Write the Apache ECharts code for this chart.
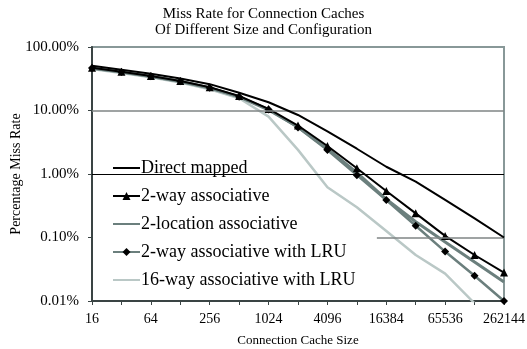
<!DOCTYPE html>
<html>
<head>
<meta charset="utf-8">
<script src="https://cdn.jsdelivr.net/npm/echarts@6/dist/echarts.min.js"></script>
<style>
html,body{margin:0;padding:0;background:#fff;}
#chart{width:527px;height:349px;}
</style>
</head>
<body>
<div id="chart"></div>
<script>
// Cache sizes (x categories, powers of two)
var cacheSizes = [16, 32, 64, 128, 256, 512, 1024, 2048, 4096, 8192, 16384, 32768, 65536, 131072, 262144];
// Tick labels shown on x axis
var xTickLabels = ['16', '64', '256', '1024', '4096', '16384', '65536', '262144'];
// Y tick labels (percent)
var yTickValues = [0.01, 0.1, 1, 10, 100];

// Miss rates in percent
var directMapped   = [50.5, 44, 38, 32, 26, 19, 13.5, 8.5, 4.7, 2.5, 1.3, 0.76, 0.39, 0.20, 0.10];
var twoWay         = [47.2, 40.8, 34.9, 29.1, 23.2, 16.9, 10.6, 5.8, 2.76, 1.23, 0.54, 0.24, 0.106, 0.053, 0.028];
var twoLocation    = [46.2, 40.2, 34.3, 28.6, 22.6, 16.4, 10.2, 5.5, 2.5, 1.05, 0.40, 0.177, 0.085, 0.041, 0.020];
var twoWayLRU      = [46.6, 40.5, 34.6, 28.8, 22.8, 16.5, 10.4, 5.4, 2.39, 0.96, 0.39, 0.153, 0.060, 0.025, 0.0100];
var sixteenWayLRU  = [45.0, 39.0, 33.5, 27.5, 21.5, 15.6, 8.0, 2.4, 0.62, 0.30, 0.127, 0.053, 0.027, 0.0092, 0.004];

var seriesNames = ['Direct mapped', '2-way associative', '2-location associative', '2-way associative with LRU', '16-way associative with LRU'];
var noSymbol = {'Direct mapped': true, '2-location associative': true, '16-way associative with LRU': true};

function pairs(vals) {
  return cacheSizes.map(function (s, i) { return [Math.log2(s), vals[i]]; });
}

var FONT = 'Liberation Serif';
var chart = echarts.init(document.getElementById('chart'), null, {renderer: 'canvas'});

var option = {
  animation: false,
  backgroundColor: '#ffffff',
  title: {
    text: 'Miss Rate for Connection Caches\nOf Different Size and Configuration',
    left: 'center',
    top: 1,
    textStyle: {fontFamily: FONT, fontSize: 15, fontWeight: 'normal', color: '#000', lineHeight: 16}
  },
  grid: {
    left: 92, right: 23, top: 47, bottom: 48,
    outerBoundsMode: 'none', containLabel: false,
    show: true, borderColor: '#889898', borderWidth: 2, backgroundColor: 'transparent'
  },
  legend: {
    orient: 'vertical',
    left: 107, top: 154,
    itemWidth: 27, itemHeight: 10, itemGap: 10,
    data: seriesNames.map(function (n) {
      return noSymbol[n] ? {name: n, itemStyle: {opacity: 0, borderWidth: 0}} : {name: n};
    }),
    textStyle: {fontFamily: FONT, fontSize: 18, color: '#000', padding: [0, 0, 0, -4]}
  },
  xAxis: {
    type: 'value',
    min: 4, max: 18, interval: 1,
    name: 'Connection Cache Size',
    nameLocation: 'middle', nameGap: 33, nameMoveOverlap: false,
    nameTextStyle: {fontFamily: FONT, fontSize: 13, color: '#000'},
    axisLine: {lineStyle: {color: '#3a4444', width: 2}},
    axisTick: {show: true, length: 4, lineStyle: {color: '#3a4444', width: 1}},
    axisLabel: {
      fontFamily: FONT, fontSize: 14, color: '#000', margin: 11,
      formatter: function (v) {
        var s = String(Math.round(Math.pow(2, v)));
        return xTickLabels.indexOf(s) >= 0 ? s : '';
      }
    },
    splitLine: {show: false}
  },
  yAxis: {
    type: 'log', logBase: 10,
    min: yTickValues[0], max: yTickValues[yTickValues.length - 1],
    name: 'Percentage Miss Rate',
    nameLocation: 'middle', nameGap: 69, nameMoveOverlap: false,
    nameTextStyle: {fontFamily: FONT, fontSize: 14, color: '#000'},
    axisLine: {show: true, lineStyle: {color: '#3a4444', width: 2}},
    axisTick: {show: true, length: 4, lineStyle: {color: '#3a4444', width: 1}},
    axisLabel: {
      fontFamily: FONT, fontSize: 15, color: '#000', margin: 13,
      formatter: function (v) { return v.toFixed(2) + '%'; }
    },
    splitLine: {show: false}
  },
  series: [
    {
      name: seriesNames[4], type: 'line', data: pairs(sixteenWayLRU),
      symbol: 'none', lineStyle: {color: '#bac8c6', width: 2.5}, itemStyle: {color: '#bac8c6'},
      z: 2,
      markLine: {
        silent: true, symbol: 'none', label: {show: false},
        data: [
          [{coord: [4, 10], lineStyle: {color: '#7f8585', width: 1.5, type: 'solid'}}, {coord: [18, 10]}],
          [{coord: [4, 1], lineStyle: {color: '#000', width: 1, type: 'solid'}}, {coord: [18, 1]}],
          [{coord: [13.68, 0.1], lineStyle: {color: '#7f8585', width: 1.5, type: 'solid'}}, {coord: [18, 0.1]}]
        ]
      }
    },
    {
      name: seriesNames[3], type: 'line', data: pairs(twoWayLRU),
      symbol: 'diamond', symbolSize: 8, showAllSymbol: true,
      lineStyle: {color: '#6b7f7d', width: 2.5}, itemStyle: {color: '#000'}, z: 3
    },
    {
      name: seriesNames[2], type: 'line', data: pairs(twoLocation),
      symbol: 'none', lineStyle: {color: '#6b7f7d', width: 3}, itemStyle: {color: '#6b7f7d'}, z: 3
    },
    {
      name: seriesNames[1], type: 'line', data: pairs(twoWay),
      symbol: 'triangle', symbolSize: 8, showAllSymbol: true,
      lineStyle: {color: '#000', width: 2}, itemStyle: {color: '#000'}, z: 4
    },
    {
      name: seriesNames[0], type: 'line', data: pairs(directMapped),
      symbol: 'none', lineStyle: {color: '#000', width: 2}, itemStyle: {color: '#000'}, z: 5
    }
  ]
};
chart.setOption(option);
</script>
</body>
</html>
